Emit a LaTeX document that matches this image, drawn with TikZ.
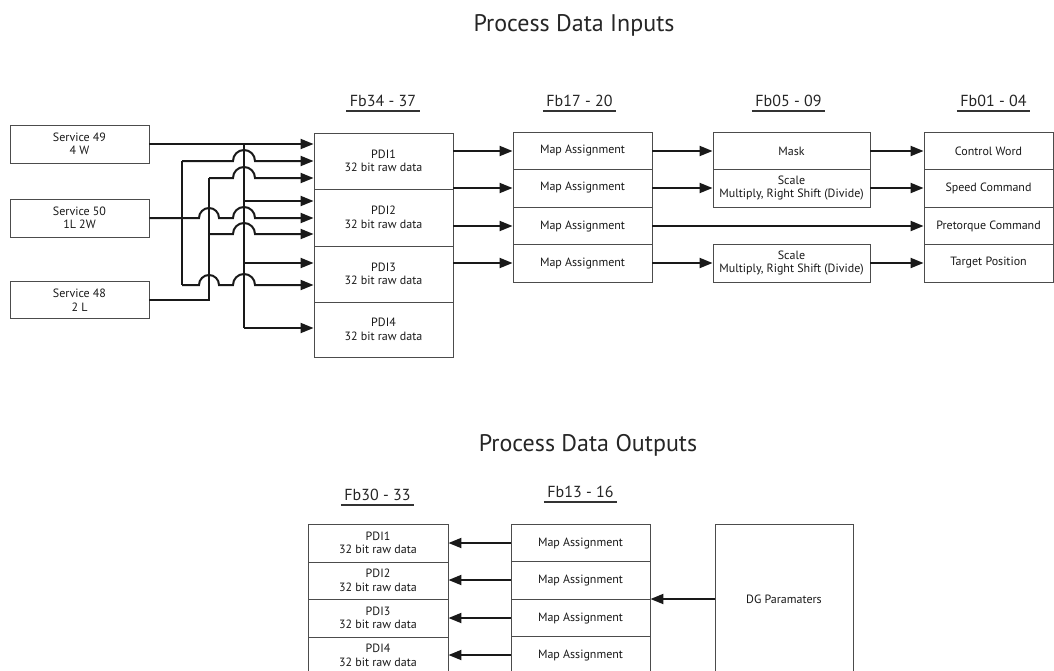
\documentclass[tikz,border=0pt]{standalone}
\usepackage{fontspec}
\setmainfont{PT Sans}
\usetikzlibrary{arrows.meta}
\newcommand{\smallf}{\fontsize{12}{13.5}\selectfont}
\newcommand{\fbf}{\fontsize{16}{18}\selectfont}
\newcommand{\titlef}{\fontsize{24}{28}\selectfont}
\tikzset{
  box/.style={draw=black!70, line width=0.9pt, fill=white, inner sep=0pt, align=center,
              font=\smallf, text=black!90},
  arr/.style={line width=2pt, black!90, -{Triangle[length=13pt,width=10pt]}},
  wire/.style={line width=2pt, black!90},
  fblbl/.style={font=\fbf, text=black!85, anchor=base, inner xsep=3.5pt, inner ysep=0pt},
  uline/.style={line width=1.5pt, black!80},
  ttl/.style={font=\titlef, text=black!85, anchor=base, inner sep=0pt},
}
\begin{document}
\begin{tikzpicture}[x=1pt,y=1pt]
\fill[white] (0,0) rectangle (1054,-670);
\useasboundingbox (0,0) rectangle (1054,-670);

% titles
\node[ttl] (tin) at (574,-31) {Process Data Inputs};
\node[ttl] (tout) at (588,-451) {Process Data Outputs};

% Fb labels
\node[fblbl] (f34) at (383,-106) {Fb34 - 37};
\node[fblbl] (f17) at (579.5,-106) {Fb17 - 20};
\node[fblbl] (f05) at (788.5,-106) {Fb05 - 09};
\node[fblbl] (f01) at (993.5,-106) {Fb01 - 04};
\node[fblbl] (f30) at (377.5,-500) {Fb30 - 33};
\node[fblbl] (f13) at (580.5,-497) {Fb13 - 16};
\foreach \n in {f34,f17,f05,f01,f30,f13}
  \draw[uline] ([yshift=-5pt]\n.base west) -- ([yshift=-5pt]\n.base east);

% service boxes
\node[box, minimum width=139pt, minimum height=38pt] (s49) at (79.5,-144) {Service 49\\4 W};
\node[box, minimum width=139pt, minimum height=38pt] (s50) at (79.5,-218) {Service 50\\1L 2W};
\node[box, minimum width=139pt, minimum height=37pt] (s48) at (79.5,-300) {Service 48\\2 L};

% PDI input boxes
\node[box, minimum width=139pt, minimum height=56pt] (pdi1) at (383.5,-161) {PDI1\\32 bit raw data};
\node[box, minimum width=139pt, minimum height=57pt] (pdi2) at (383.5,-217.5) {PDI2\\32 bit raw data};
\node[box, minimum width=139pt, minimum height=56pt] (pdi3) at (383.5,-274) {PDI3\\32 bit raw data};
\node[box, minimum width=139pt, minimum height=55pt] (pdi4) at (383.5,-329.5) {PDI4\\32 bit raw data};

% Map assignment boxes
\foreach \i/\y in {1/151,2/188,3/226,4/263}
  \node[box, minimum width=139pt, minimum height=38pt] (map\i) at (582.5,-\y) {Map Assignment};

% Mask / scale
\node[box, minimum width=157pt, minimum height=38pt] (mask) at (791.5,-151) {Mask};
\node[box, minimum width=157pt, minimum height=38pt] (sc1) at (791.5,-188) {Scale\\Multiply, Right Shift (Divide)};
\node[box, minimum width=157pt, minimum height=38pt] (sc2) at (791.5,-263) {Scale\\Multiply, Right Shift (Divide)};

% Fb01-04
\node[box, minimum width=129pt, minimum height=38pt] (cw) at (988.5,-151) {Control Word};
\node[box, minimum width=129pt, minimum height=38pt] (spd) at (988.5,-188) {Speed Command};
\node[box, minimum width=129pt, minimum height=38pt] (pre) at (988.5,-226) {Pretorque Command};
\node[box, minimum width=129pt, minimum height=38pt] (tgt) at (988.5,-263) {Target Position};

% arrows PDI -> Map
\foreach \i in {1,2,3,4}
  \draw[arr] (pdi1.east |- map\i.west) -- (map\i.west);
% Map -> Mask/Scale
\draw[arr] (map1.east) -- (mask.west);
\draw[arr] (map2.east) -- (sc1.west);
\draw[arr] (map3.east) -- (pre.west);
\draw[arr] (map4.east) -- (sc2.west);
% -> Fb01
\draw[arr] (mask.east) -- (cw.west);
\draw[arr] (sc1.east) -- (spd.west);
\draw[arr] (sc2.east) -- (tgt.west);

% left wiring
\coordinate (b1) at (244,-144);
\coordinate (b4) at (244,-201);
\coordinate (b7) at (244,-263);
\coordinate (b9) at (244,-328);
\coordinate (a2) at (182,-161);
\coordinate (a8) at (182,-285);
\coordinate (c3) at (209,-178);
\coordinate (c6) at (209,-234);
\coordinate (c48) at (209,-300);

\draw[arr] (s49.east) -- (s49.east -| pdi1.west);
\draw[wire] (b1) -- (b9);
\draw[arr] (b9) -- (b9 -| pdi4.west);
\draw[arr] (b4) -- (b4 -| pdi2.west);
\draw[arr] (b7) -- (b7 -| pdi3.west);
\draw[wire] (a2) -- (a8);
\draw[wire] (s48.east) -- (c48) -- (c3);

\draw[arr] (a2) -- (233,-161) arc[start angle=180,end angle=0,radius=11pt] -- (pdi1.west |- a2);
\draw[arr] (c3) -- (233,-178) arc[start angle=180,end angle=0,radius=11pt] -- (pdi1.west |- c3);
\draw[arr] (s50.east) -- (199,-218) arc[start angle=180,end angle=0,radius=10pt]
   -- (233,-218) arc[start angle=180,end angle=0,radius=11pt] -- (pdi2.west |- s50.east);
\draw[arr] (c6) -- (233,-234) arc[start angle=180,end angle=0,radius=11pt] -- (pdi2.west |- c6);
\draw[arr] (a8) -- (199,-285) arc[start angle=180,end angle=0,radius=10pt]
   -- (233,-285) arc[start angle=180,end angle=0,radius=11pt] -- (pdi3.west |- a8);

% outputs
\node[box, minimum width=140pt, minimum height=38pt] (op1) at (378,-543) {PDI1\\32 bit raw data};
\node[box, minimum width=140pt, minimum height=37pt] (op2) at (378,-580.5) {PDI2\\32 bit raw data};
\node[box, minimum width=140pt, minimum height=38pt] (op3) at (378,-618) {PDI3\\32 bit raw data};
\node[box, minimum width=140pt, minimum height=37pt] (op4) at (378,-655.5) {PDI4\\32 bit raw data};
\node[box, minimum width=139pt, minimum height=38pt] (om1) at (580.5,-543) {Map Assignment};
\node[box, minimum width=139pt, minimum height=38pt] (om2) at (580.5,-580) {Map Assignment};
\node[box, minimum width=139pt, minimum height=38pt] (om3) at (580.5,-618) {Map Assignment};
\node[box, minimum width=139pt, minimum height=38pt] (om4) at (580.5,-655) {Map Assignment};
\node[box, minimum width=138pt, minimum height=150pt] (dg) at (784,-599) {DG Paramaters};

\foreach \i in {1,2,3,4}
  \draw[arr] (om\i.west) -- (om\i.west -| op1.east);
\draw[arr] (dg.west) -- (dg.west -| om2.east);
\end{tikzpicture}
\end{document}
